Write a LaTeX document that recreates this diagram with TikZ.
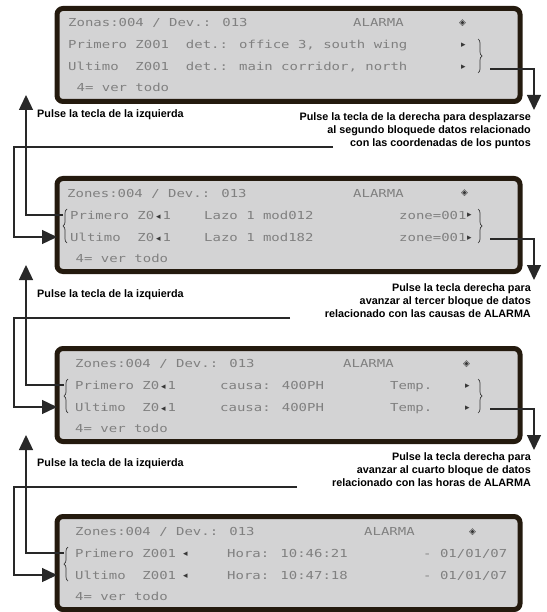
\documentclass[tikz,border=0pt]{standalone}
\usepackage{fontspec}
\usetikzlibrary{arrows.meta, decorations.pathreplacing}
\newfontfamily\lcdfont[FakeStretch=1.27]{DejaVu Sans Mono}
\newfontfamily\symfont{DejaVu Sans}
\newfontfamily\notefont{Liberation Sans}
\definecolor{lcdbg}{RGB}{211,211,212}
\definecolor{lcdink}{RGB}{128,128,128}
\definecolor{lcddot}{RGB}{55,55,55}
\definecolor{lcdframe}{RGB}{36,26,14}
\definecolor{linegray}{RGB}{40,40,40}
\newcommand{\crs}{\makebox[8.4pt]{\textcolor{lcddot}{\symfont\fontsize{9}{9}\selectfont ◂}}}

\begin{document}
\begin{tikzpicture}[x=1pt, y=-1pt]
\tikzstyle{lcd}=[draw=lcdframe, line width=5pt, rounded corners=6pt, fill=lcdbg,
  minimum width=463pt, minimum height=93pt, inner sep=0pt]
\tikzstyle{txt}=[anchor=base west, inner sep=0pt, text=lcdink,
  font=\lcdfont\fontsize{11}{11}\selectfont]
\tikzstyle{sym}=[anchor=base west, inner sep=0pt, text=lcddot,
  font=\symfont\fontsize{9}{9}\selectfont]
\tikzstyle{note}=[inner sep=0pt, font=\notefont\bfseries\fontsize{10.8}{13}\selectfont]
\tikzstyle{brc}=[draw=lcddot, line width=0.7pt, decorate, decoration={brace, amplitude=4pt}]
\tikzstyle{arr}=[draw=linegray, line width=1.4pt, -{Triangle[length=15pt, width=14pt]}]

\useasboundingbox (0,0) rectangle (546,612);

\node[lcd] (p1) at (288.5,55) {};
\node[lcd] (p2) at (288.5,225) {};
\node[lcd] (p3) at (288.5,395) {};
\node[lcd] (p4) at (288.5,563) {};

\node[txt] (p1z) at (68,27) {Zonas:004 / Dev.: 013};
\node[txt] (p1a) at (353,27) {ALARMA};
\node[sym] (p1s) at (459,26) {◈};
\node[txt] (p1p) at (68,49) {Primero Z001~~det.: office 3, south wing};
\node[sym] (p1ps) at (461,48) {▸};
\node[txt] (p1u) at (68,71) {Ultimo~~Z001~~det.: main corridor, north};
\node[sym] (p1us) at (461,70) {▸};
\node[txt] (p1t) at (68,92) {~4= ver todo};
\draw[brc] (478,39) -- (478,73);
\coordinate (p1o) at (490,69);

\node[txt] (p2z) at (67,197) {Zones:004 / Dev.: 013};
\node[txt] (p2a) at (353,197) {ALARMA};
\node[sym] (p2s) at (461,196) {◈};
\node[txt] (p2p) at (70,219) {Primero Z0\crs1};
\node[txt] (p2pl) at (204,219) {Lazo 1 mod012};
\node[txt] (p2pz) at (399,219) {zone=001};
\node[sym] (p2ps) at (467,218) {▸};
\node[txt] (p2u) at (70,241) {Ultimo~~Z0\crs1};
\node[txt] (p2ul) at (204,241) {Lazo 1 mod182};
\node[txt] (p2uz) at (399,241) {zone=001};
\node[sym] (p2us) at (467,240) {▸};
\node[txt] (p2t) at (67,262) {~4= ver todo};
\draw[brc] (67,243) -- (67,209);
\draw[brc] (478,209) -- (478,243);
\coordinate (p2in) at (63,215);
\coordinate (p2back) at (57,237);
\coordinate (p2o) at (490,239);

\node[txt] (p3z) at (75,367) {Zones:004 / Dev.: 013};
\node[txt] (p3a) at (343,367) {ALARMA};
\node[sym] (p3s) at (463,366) {◈};
\node[txt] (p3p) at (75,389) {Primero Z0\crs1};
\node[txt] (p3pc) at (220,389) {causa: 400PH};
\node[txt] (p3pt) at (390,389) {Temp.};
\node[sym] (p3ps) at (465,388) {▸};
\node[txt] (p3u) at (75,411) {Ultimo~~Z0\crs1};
\node[txt] (p3uc) at (220,411) {causa: 400PH};
\node[txt] (p3ut) at (390,411) {Temp.};
\node[sym] (p3us) at (465,410) {▸};
\node[txt] (p3t) at (75,432) {4= ver todo};
\draw[brc] (68,413) -- (68,379);
\draw[brc] (478,379) -- (478,413);
\coordinate (p3in) at (64,385);
\coordinate (p3back) at (57,407);
\coordinate (p3o) at (490,409);

\node[txt] (p4z) at (75,535) {Zones:004 / Dev.: 013};
\node[txt] (p4a) at (364,535) {ALARMA};
\node[sym] (p4s) at (469,534) {◈};
\node[txt] (p4p) at (75,557) {Primero Z001};
\node[sym] (p4ps) at (183,556) {◂};
\node[txt] (p4ph) at (227,557) {Hora: 10:46:21};
\node[txt] (p4pd) at (423,557) {- 01/01/07};
\node[txt] (p4u) at (75,579) {Ultimo~~Z001};
\node[sym] (p4us) at (183,578) {◂};
\node[txt] (p4uh) at (227,579) {Hora: 10:47:18};
\node[txt] (p4ud) at (423,579) {- 01/01/07};
\node[txt] (p4t) at (75,600) {4= ver todo};
\draw[brc] (68,581) -- (68,547);
\coordinate (p4in) at (64,553);
\coordinate (p4back) at (57,575);

\node[note, anchor=base west] (l1) at (37,118) {Pulse la tecla de la izquierda};
\node[note, anchor=base east] (r1a) at (531,121) {Pulse la tecla de la derecha para desplazarse};
\node[note, anchor=base east] (r1b) at (531,134) {al segundo bloquede datos relacionado};
\node[note, anchor=base east] (r1c) at (531,147) {con las coordenadas de los puntos};
\coordinate (d1) at (534,110);
\coordinate (u1) at (26,95);
\coordinate (b1) at (333,147);

\node[note, anchor=base west] (l2) at (37,297) {Pulse la tecla de la izquierda};
\node[note, anchor=base east] (r2a) at (531,291) {Pulse la tecla derecha para};
\node[note, anchor=base east] (r2b) at (531,304) {avanzar al tercer bloque de datos};
\node[note, anchor=base east] (r2c) at (531,317) {relacionado con las causas de ALARMA};
\coordinate (d2) at (534,280);
\coordinate (u2) at (26,265);
\coordinate (b2) at (290,318);

\node[note, anchor=base west] (l3) at (37,466) {Pulse la tecla de la izquierda};
\node[note, anchor=base east] (r3a) at (531,460) {Pulse la tecla derecha para};
\node[note, anchor=base east] (r3b) at (531,473) {avanzar al cuarto bloque de datos};
\node[note, anchor=base east] (r3c) at (531,486) {relacionado con las horas de ALARMA};
\coordinate (d3) at (534,450);
\coordinate (u3) at (26,435);
\coordinate (b3) at (297,487);

\draw[arr] (p1o) -| (d1);
\draw[arr] (p2in) -| (u1);
\draw[arr] (b1) -| ([xshift=-43pt]p2back) -- (p2back);

\draw[arr] (p2o) -| (d2);
\draw[arr] (p3in) -| (u2);
\draw[arr] (b2) -| ([xshift=-43pt]p3back) -- (p3back);

\draw[arr] (p3o) -| (d3);
\draw[arr] (p4in) -| (u3);
\draw[arr] (b3) -| ([xshift=-43pt]p4back) -- (p4back);
\end{tikzpicture}
\end{document}
